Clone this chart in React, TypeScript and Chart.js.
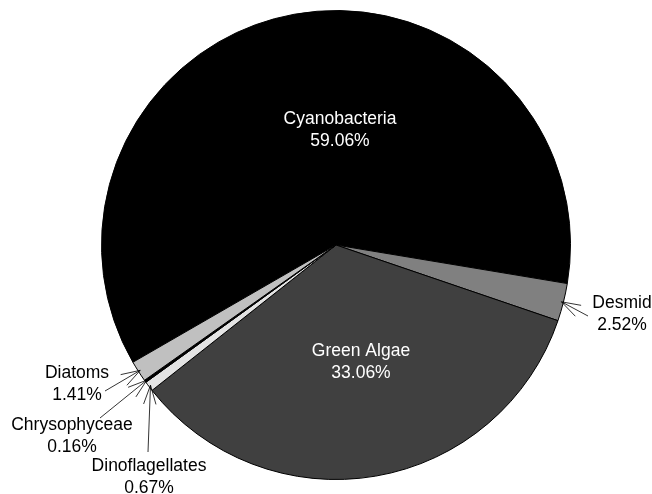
import React, { useEffect, useRef } from "react";
import { Chart, registerables } from "chart.js";

Chart.register(...registerables);

const categories = ["Cyanobacteria", "Desmid", "Green Algae", "Dinoflagellates", "Chrysophyceae", "Diatoms"];
const values = [59.06, 2.52, 33.06, 0.67, 0.16, 1.41];
const percentLabels = ["59.06%", "2.52%", "33.06%", "0.67%", "0.16%", "1.41%"];
const colors = ["#000000", "#808080", "#404040", "#e4e4e4", "#000000", "#c0c0c0"];

// label layout (offsets from pie centre, in px), inside = white text without arrow
const labelLayout = [
  { dx: 4, dy: -115, inside: true },
  { dx: 286, dy: 69, inside: false, ax: 252, ay: 71 },
  { dx: 25, dy: 117, inside: true },
  { dx: -187, dy: 232, inside: false, ax: -188, ay: 207 },
  { dx: -264, dy: 191, inside: false, ax: -236, ay: 173 },
  { dx: -259, dy: 139, inside: false, ax: -231, ay: 146 },
];

const labelPlugin = {
  id: "sliceLabels",
  afterDatasetsDraw(chart: any) {
    const ctx = chart.ctx;
    const meta = chart.getDatasetMeta(0);
    ctx.save();
    ctx.font = '17.5px "Liberation Sans", Arial, sans-serif';
    ctx.textAlign = "center";
    ctx.textBaseline = "middle";
    meta.data.forEach((arc: any, i: number) => {
      const p = arc.getProps(["x", "y", "startAngle", "endAngle", "outerRadius"], true);
      const L = labelLayout[i];
      const lx = p.x + L.dx;
      const ly = p.y + L.dy;
      ctx.fillStyle = L.inside ? "#ffffff" : "#000000";
      ctx.fillText(categories[i], lx, ly - 11);
      ctx.fillText(percentLabels[i], lx, ly + 11);
      if (!L.inside) {
        const mid = (p.startAngle + p.endAngle) / 2;
        const tx = p.x + Math.cos(mid) * (p.outerRadius - 2);
        const ty = p.y + Math.sin(mid) * (p.outerRadius - 2);
        const sx = p.x + (L.ax as number);
        const sy = p.y + (L.ay as number);
        const ang = Math.atan2(sy - ty, sx - tx);
        ctx.strokeStyle = "#000000";
        ctx.lineWidth = 0.8;
        ctx.beginPath();
        ctx.moveTo(sx, sy);
        ctx.lineTo(tx, ty);
        const bl = 20;
        const spread = (18 * Math.PI) / 180;
        ctx.moveTo(tx, ty);
        ctx.lineTo(tx + Math.cos(ang + spread) * bl, ty + Math.sin(ang + spread) * bl);
        ctx.moveTo(tx, ty);
        ctx.lineTo(tx + Math.cos(ang - spread) * bl, ty + Math.sin(ang - spread) * bl);
        ctx.stroke();
      }
    });
    ctx.restore();
  },
};

export default function App() {
  const ref = useRef<HTMLCanvasElement | null>(null);
  useEffect(() => {
    if (!ref.current) return;
    const chart = new Chart(ref.current, {
      type: "pie",
      data: {
        labels: categories,
        datasets: [
          {
            data: values,
            backgroundColor: colors,
            borderColor: "#000000",
            borderWidth: 1,
          },
        ],
      },
      options: {
        responsive: false,
        animation: false,
        devicePixelRatio: 1,
        rotation: 240,
        layout: { padding: { top: 10, bottom: 14, left: 101, right: 81 } },
        plugins: {
          legend: { display: false },
          tooltip: { enabled: false },
        },
      },
      plugins: [labelPlugin],
    });
    return () => chart.destroy();
  }, []);
  return (
    <div style={{ position: "fixed", left: 0, top: 0, width: 652, height: 494, background: "#ffffff" }}>
      <canvas ref={ref} width={652} height={494} />
    </div>
  );
}
